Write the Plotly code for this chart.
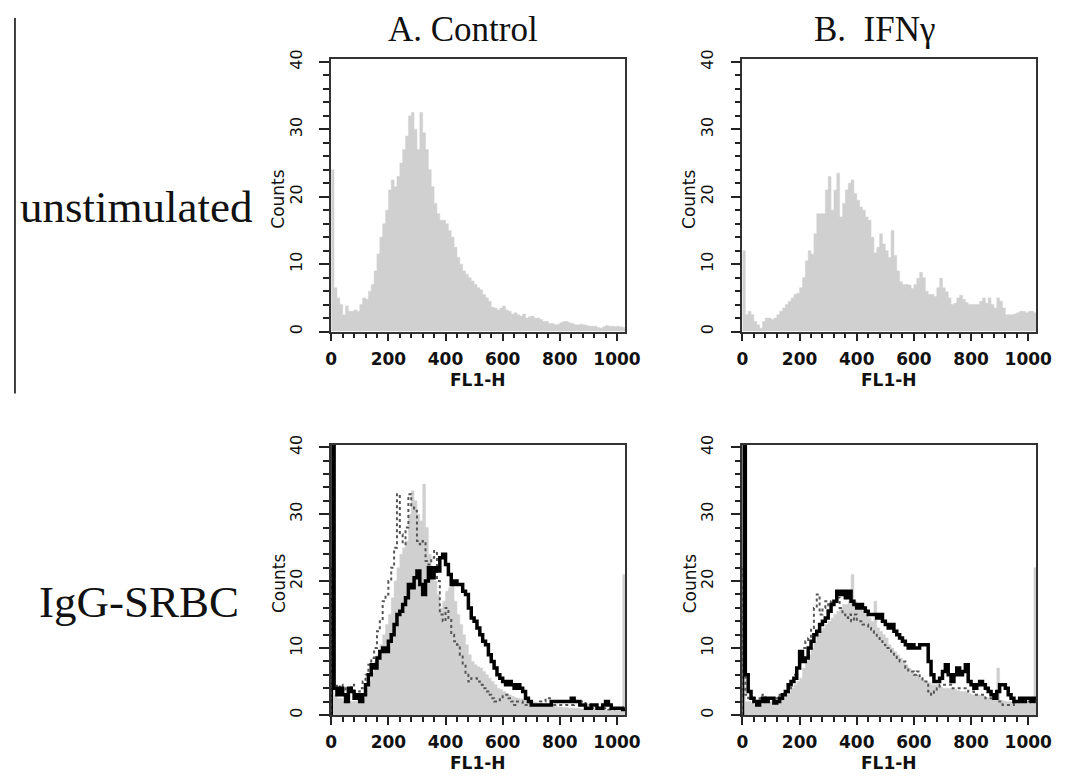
import plotly.graph_objects as go

# FL1-H channel bins (left edges, width 10)
fl1_bins = list(range(0, 1030, 10))
x_end = 1030

# A. Control, unstimulated
ctrl_unstim = [24, 6.5, 5, 4, 2.5, 3.8, 3, 3, 3.2, 3,
               4, 5, 4.8, 6, 7, 9, 11.5, 14, 16, 18,
               21, 22.5, 21.5, 23, 25, 27, 29, 32, 32.5, 30,
               27, 32.5, 29.5, 27, 24, 21.5, 19, 17.5, 16.5, 16.5,
               16, 15, 14, 12.5, 11, 10, 9, 8.5, 8, 7.5,
               7, 6.5, 6.2, 5.5, 5, 4.5, 3.6, 3.5, 3.2, 3.5,
               3.8, 3.2, 3, 2.6, 2.8, 2.5, 2.3, 2.6, 2, 2.2,
               2.3, 2, 2, 1.8, 1.5, 1.5, 1.2, 1.2, 1, 1.1,
               1.3, 1.5, 1.5, 1.3, 1.2, 1, 1, 1.1, 1, 0.9,
               0.8, 0.8, 0.8, 0.6, 0.5, 0.7, 0.9, 0.8, 0.8, 0.7,
               0.8, 0.7, 0.6]

# B. IFNg, unstimulated
ifn_unstim = [12, 2.5, 3, 2.5, 1.5, 1, 0.5, 1.5, 2, 2,
              1.8, 2, 2.5, 3, 3.5, 4, 4.5, 5, 5.5, 5.7,
              6.5, 8, 10.5, 12, 11.5, 14.5, 17.5, 17.5, 17.5, 21,
              23, 18, 21, 23.5, 17, 19, 21, 22, 22.5, 20.5,
              19.5, 18.5, 18, 17, 16.5, 14, 11.7, 12.5, 14.5, 13,
              12, 11, 15, 11.3, 9, 7.4, 7, 7, 6.9, 6.4,
              7, 7.9, 8.8, 8, 6, 5.5, 5.5, 5.2, 6.5, 7.9,
              6.5, 5.9, 5, 4, 4.2, 5, 5.4, 4.8, 4.3, 4,
              4, 4, 4, 4.5, 5, 4.2, 5, 4, 3.5, 5,
              4.5, 3.5, 2.5, 2.5, 2.5, 2.6, 2.8, 3, 3, 2.8,
              3, 3, 2.8]

# A. Control, IgG-SRBC: reference (grey), dotted, solid
ctrl_igg_ref = [22, 3, 2.5, 2.5, 2, 2, 2, 2, 2, 2.2,
                2.5, 3, 4, 5, 6.5, 8, 9, 10.5, 12, 13.5,
                15, 17.5, 20, 22, 24, 25, 26, 30, 33.5, 32,
                30, 29, 34.5, 28, 24, 22, 20, 18, 16, 17,
                18.5, 19, 19.5, 17, 15, 13.5, 12, 10.5, 9, 8,
                7.5, 7.2, 7, 6.5, 6, 5.5, 5, 4.5, 4, 3.8,
                3.5, 3.2, 3, 2.8, 2.6, 2.5, 2.4, 2.3, 2.2, 2.1,
                2, 1.9, 1.8, 1.7, 1.6, 1.5, 1.4, 1.4, 1.3, 1.2,
                1.2, 1.1, 1.1, 1, 1, 1, 1, 0.9, 0.9, 0.9,
                0.8, 0.8, 0.8, 0.8, 0.8, 0.8, 0.7, 0.7, 0.7, 0.7,
                0.7, 0.7, 21]
ctrl_igg_dot = [22, 4.5, 4, 4.5, 4, 3.5, 4, 4.5, 3.5, 3.5,
                4, 5, 6, 7.5, 8.5, 10, 12.5, 14, 17, 18,
                20, 22, 25, 33, 27, 25.5, 28, 33, 31, 30.5,
                26, 25.5, 26, 23, 22.5, 23.5, 24.5, 20, 15, 14,
                16, 14.5, 12, 11, 10.5, 9, 7.5, 6, 5, 5.5,
                5.5, 5, 4.5, 4, 3.5, 3, 2.5, 2, 2, 2.5,
                3, 3, 2.5, 2, 1.5, 2, 2, 1.5, 1.5, 1.5,
                1.5, 1.5, 1.5, 2, 2, 2.5, 2.5, 2, 1.5, 1.5,
                1.5, 1.5, 1.5, 1.5, 1.5, 2, 2, 2, 2, 1.5,
                1.5, 1, 1, 1, 1, 1, 1, 0.8, 0.8, 1,
                1, 1, 1]
ctrl_igg = [45, 4, 3, 4, 3, 2, 4, 3.5, 2.5, 3,
            2, 3, 4.5, 6, 7.5, 7, 8.5, 9.5, 10, 9.5,
            11, 12, 13.5, 15, 15.5, 16.5, 17.5, 19.5, 19, 20.5,
            21.5, 19.5, 18, 20, 22, 20.5, 22, 21.5, 23.5, 24,
            22.5, 21, 19.5, 20, 19.5, 19.5, 18.5, 18, 16, 14.5,
            14, 13, 12, 11, 10.5, 9, 8, 7, 6, 5.5,
            5, 4.5, 5, 4.5, 4, 4.5, 4, 3.5, 2.5, 2,
            1.5, 1.5, 1.5, 1.5, 1.5, 1.5, 1.5, 2, 2, 2,
            2, 2, 2, 2, 2.5, 2, 2, 1.5, 1.5, 1,
            1, 1.5, 1.5, 1, 1, 1.5, 2, 1.5, 1, 1,
            1, 1, 0.8]

# B. IFNg, IgG-SRBC: reference (grey), dotted, solid
ifn_igg_ref = [22, 2, 2, 1.8, 1.5, 1.5, 1.5, 1.8, 2, 2,
               2, 2, 2.2, 2.5, 2.8, 3, 3.5, 4, 4.5, 5,
               5.5, 7, 8, 9, 10, 11, 12, 12.5, 13, 13.5,
               14, 14.5, 15, 15.5, 16, 16.5, 16.5, 17, 21, 17,
               16, 16, 15.5, 15, 14.5, 14, 17, 13, 12.5, 12,
               11.5, 10.5, 10, 9.5, 9, 8.5, 8, 7.5, 7, 6.5,
               6, 5.8, 5.5, 5.2, 5, 4.8, 4.5, 4.5, 4.5, 4.2,
               4, 4, 4, 3.9, 3.8, 3.6, 3.5, 3.5, 3.5, 3.2,
               3, 3, 3, 2.9, 2.8, 2.6, 2.5, 2.5, 2.5, 7,
               2.2, 2.1, 2, 2, 2, 2, 2, 2, 2, 1.9,
               1.8, 1.6, 22]
ifn_igg_dot = [22, 3, 2.5, 2.5, 2.5, 2, 2.5, 3, 2.5, 2.5,
               2.5, 2.5, 2.5, 3, 3, 3.5, 4, 5, 6, 7,
               8, 10, 11, 11.5, 13, 16, 18, 15, 16, 17,
               15.5, 17, 17, 17.5, 16, 15, 14.5, 15, 14, 15,
               14, 14, 13.5, 13.5, 13, 12.5, 12, 11.5, 11, 10.5,
               10, 10, 9.5, 9, 8.5, 8, 8, 7, 6.5, 6.5,
               6, 6.5, 5.5, 5, 5, 3.5, 3, 3.5, 4, 4.5,
               4.5, 4.5, 4.5, 4, 4, 4, 4, 4, 4, 3.5,
               3.5, 3, 3, 3, 3, 2.5, 2.5, 2.5, 2.5, 2,
               2, 1.5, 1.5, 1.5, 1.5, 2, 2, 2, 2, 2,
               2, 2, 2]
ifn_igg = [45, 6, 3.5, 2.5, 2, 1.5, 2, 2.5, 2, 2.5,
           2.5, 1.8, 2, 2.5, 3, 3.5, 4.5, 5, 5.5, 7,
           9.5, 8, 8.5, 10, 11, 12, 12.5, 13.5, 14, 14.5,
           15.5, 16.5, 17, 18.5, 18, 18.5, 17.5, 18.5, 17, 16.5,
           16, 16.5, 16, 15.5, 15, 15, 15, 14.5, 15, 14,
           13.5, 13, 13.5, 12.5, 12, 11.5, 11, 10.5, 10, 10.5,
           10, 10, 10.5, 10.5, 10.5, 8, 6, 5, 5, 5.5,
           6.5, 7.5, 6, 5, 6, 7, 6, 6.5, 7.5, 5,
           4.5, 4, 4.5, 5, 4.5, 4, 3.5, 3, 2.5, 3.5,
           4.5, 4.5, 4, 3, 2.5, 2, 2, 2.5, 2, 2.5,
           2.5, 2, 2.5]

col_titles = ["A. Control", "B.\u00a0 IFN\u03b3"]
row_titles = ["unstimulated", "IgG-SRBC"]

# the page keeps an 8px body margin, so the figure is 16px smaller than the window
OFF = 8
W, H = 1070 - 2 * OFF, 780 - 2 * OFF


def px(x):
    return (x - OFF) / W


def py(y):
    return 1 - (y - OFF) / H


# plot boxes in window pixels (left, right, top, bottom)
boxes = [(332, 632, 50, 327), (752, 1052, 50, 327),
         (332, 632, 442, 717), (752, 1052, 442, 717)]

grey = '#d0d0d0'


def steps(vals):
    return [0] + fl1_bins + [x_end], [0] + vals + [vals[-1]]


fig = go.Figure()

panels = [
    [(ctrl_unstim, 'fill')],
    [(ifn_unstim, 'fill')],
    [(ctrl_igg_ref, 'fill'), (ctrl_igg_dot, 'dot'), (ctrl_igg, 'solid')],
    [(ifn_igg_ref, 'fill'), (ifn_igg_dot, 'dot'), (ifn_igg, 'solid')],
]

for i, series in enumerate(panels):
    xa = 'x' if i == 0 else 'x%d' % (i + 1)
    ya = 'y' if i == 0 else 'y%d' % (i + 1)
    for vals, kind in series:
        xs, ys = steps(vals)
        if kind == 'fill':
            fig.add_trace(go.Scatter(x=xs, y=ys, mode='lines', line_shape='hv',
                                     line=dict(color=grey, width=0.5), fill='tozeroy',
                                     fillcolor=grey, xaxis=xa, yaxis=ya, showlegend=False))
        elif kind == 'dot':
            fig.add_trace(go.Scatter(x=xs, y=ys, mode='lines', line_shape='hv',
                                     line=dict(color='#555555', width=2, dash='dot'),
                                     xaxis=xa, yaxis=ya, showlegend=False))
        else:
            fig.add_trace(go.Scatter(x=xs, y=ys, mode='lines', line_shape='hv',
                                     line=dict(color='black', width=3.5),
                                     xaxis=xa, yaxis=ya, showlegend=False))

layout = {}
annotations = []
for i, (l, r, t, b) in enumerate(boxes):
    key = '' if i == 0 else str(i + 1)
    layout['xaxis' + key] = dict(
        domain=[px(l), px(r)], anchor='y' + key, range=[0, 1028],
        tickvals=[0, 200, 400, 600, 800, 1000], ticks='outside', ticklen=8, tickwidth=2,
        tickcolor='#222', showline=True, linecolor='#333', linewidth=1.5, mirror=True,
        showgrid=False, zeroline=False, ticklabelstandoff=3,
        tickfont=dict(family='DejaVu Sans', size=17, color='#111', weight='bold'),
        minor=dict(dtick=40, ticks='outside', ticklen=5, tickwidth=2, tickcolor='#222'))
    layout['yaxis' + key] = dict(
        domain=[py(b), py(t)], anchor='x' + key, range=[0, 40.4],
        tickvals=[0, 10, 20, 30, 40], ticks='outside', ticklen=10, tickwidth=2,
        tickcolor='#222', showline=True, linecolor='#333', linewidth=1.5, mirror=True,
        showgrid=False, zeroline=False, tickangle=-90, ticklabelstandoff=11,
        tickfont=dict(family='DejaVu Sans', size=16, color='#111'),
        minor=dict(dtick=2, ticks='outside', ticklen=6, tickwidth=2, tickcolor='#222'))
    annotations.append(dict(text='Counts', x=px(l - 54), y=py((t + b) / 2 + 4),
                            xref='paper', yref='paper', xanchor='center', yanchor='middle',
                            showarrow=False, textangle=-90,
                            font=dict(family='DejaVu Sans', size=17, color='#111')))
    annotations.append(dict(text='FL1-H', x=px((l + r) / 2), y=py(b + 49),
                            xref='paper', yref='paper', xanchor='center', yanchor='middle',
                            showarrow=False,
                            font=dict(family='DejaVu Sans', size=17, color='#111', weight='bold')))

for txt, cx in zip(col_titles, [467, 887]):
    annotations.append(dict(text=txt, x=px(cx), y=py(20), xref='paper', yref='paper',
                            xanchor='center', yanchor='middle', showarrow=False,
                            font=dict(family='Liberation Serif', size=35, color='#111')))
for txt, lx, cy in zip(row_titles, [12, 32], [200, 602]):
    annotations.append(dict(text=txt, x=px(lx), y=py(cy), xref='paper', yref='paper',
                            xanchor='left', yanchor='middle', showarrow=False,
                            font=dict(family='Liberation Serif', size=45, color='#111')))

fig.update_layout(**layout)
fig.update_layout(
    width=W, height=H, margin=dict(l=0, r=0, t=0, b=0),
    paper_bgcolor='white', plot_bgcolor='white',
    annotations=annotations,
    shapes=[dict(type='line', xref='paper', yref='paper', x0=px(9), x1=px(9),
                 y0=py(8), y1=py(390), line=dict(color='black', width=1.5))],
)

fig.write_html("out.html", config={'displayModeBar': False})
